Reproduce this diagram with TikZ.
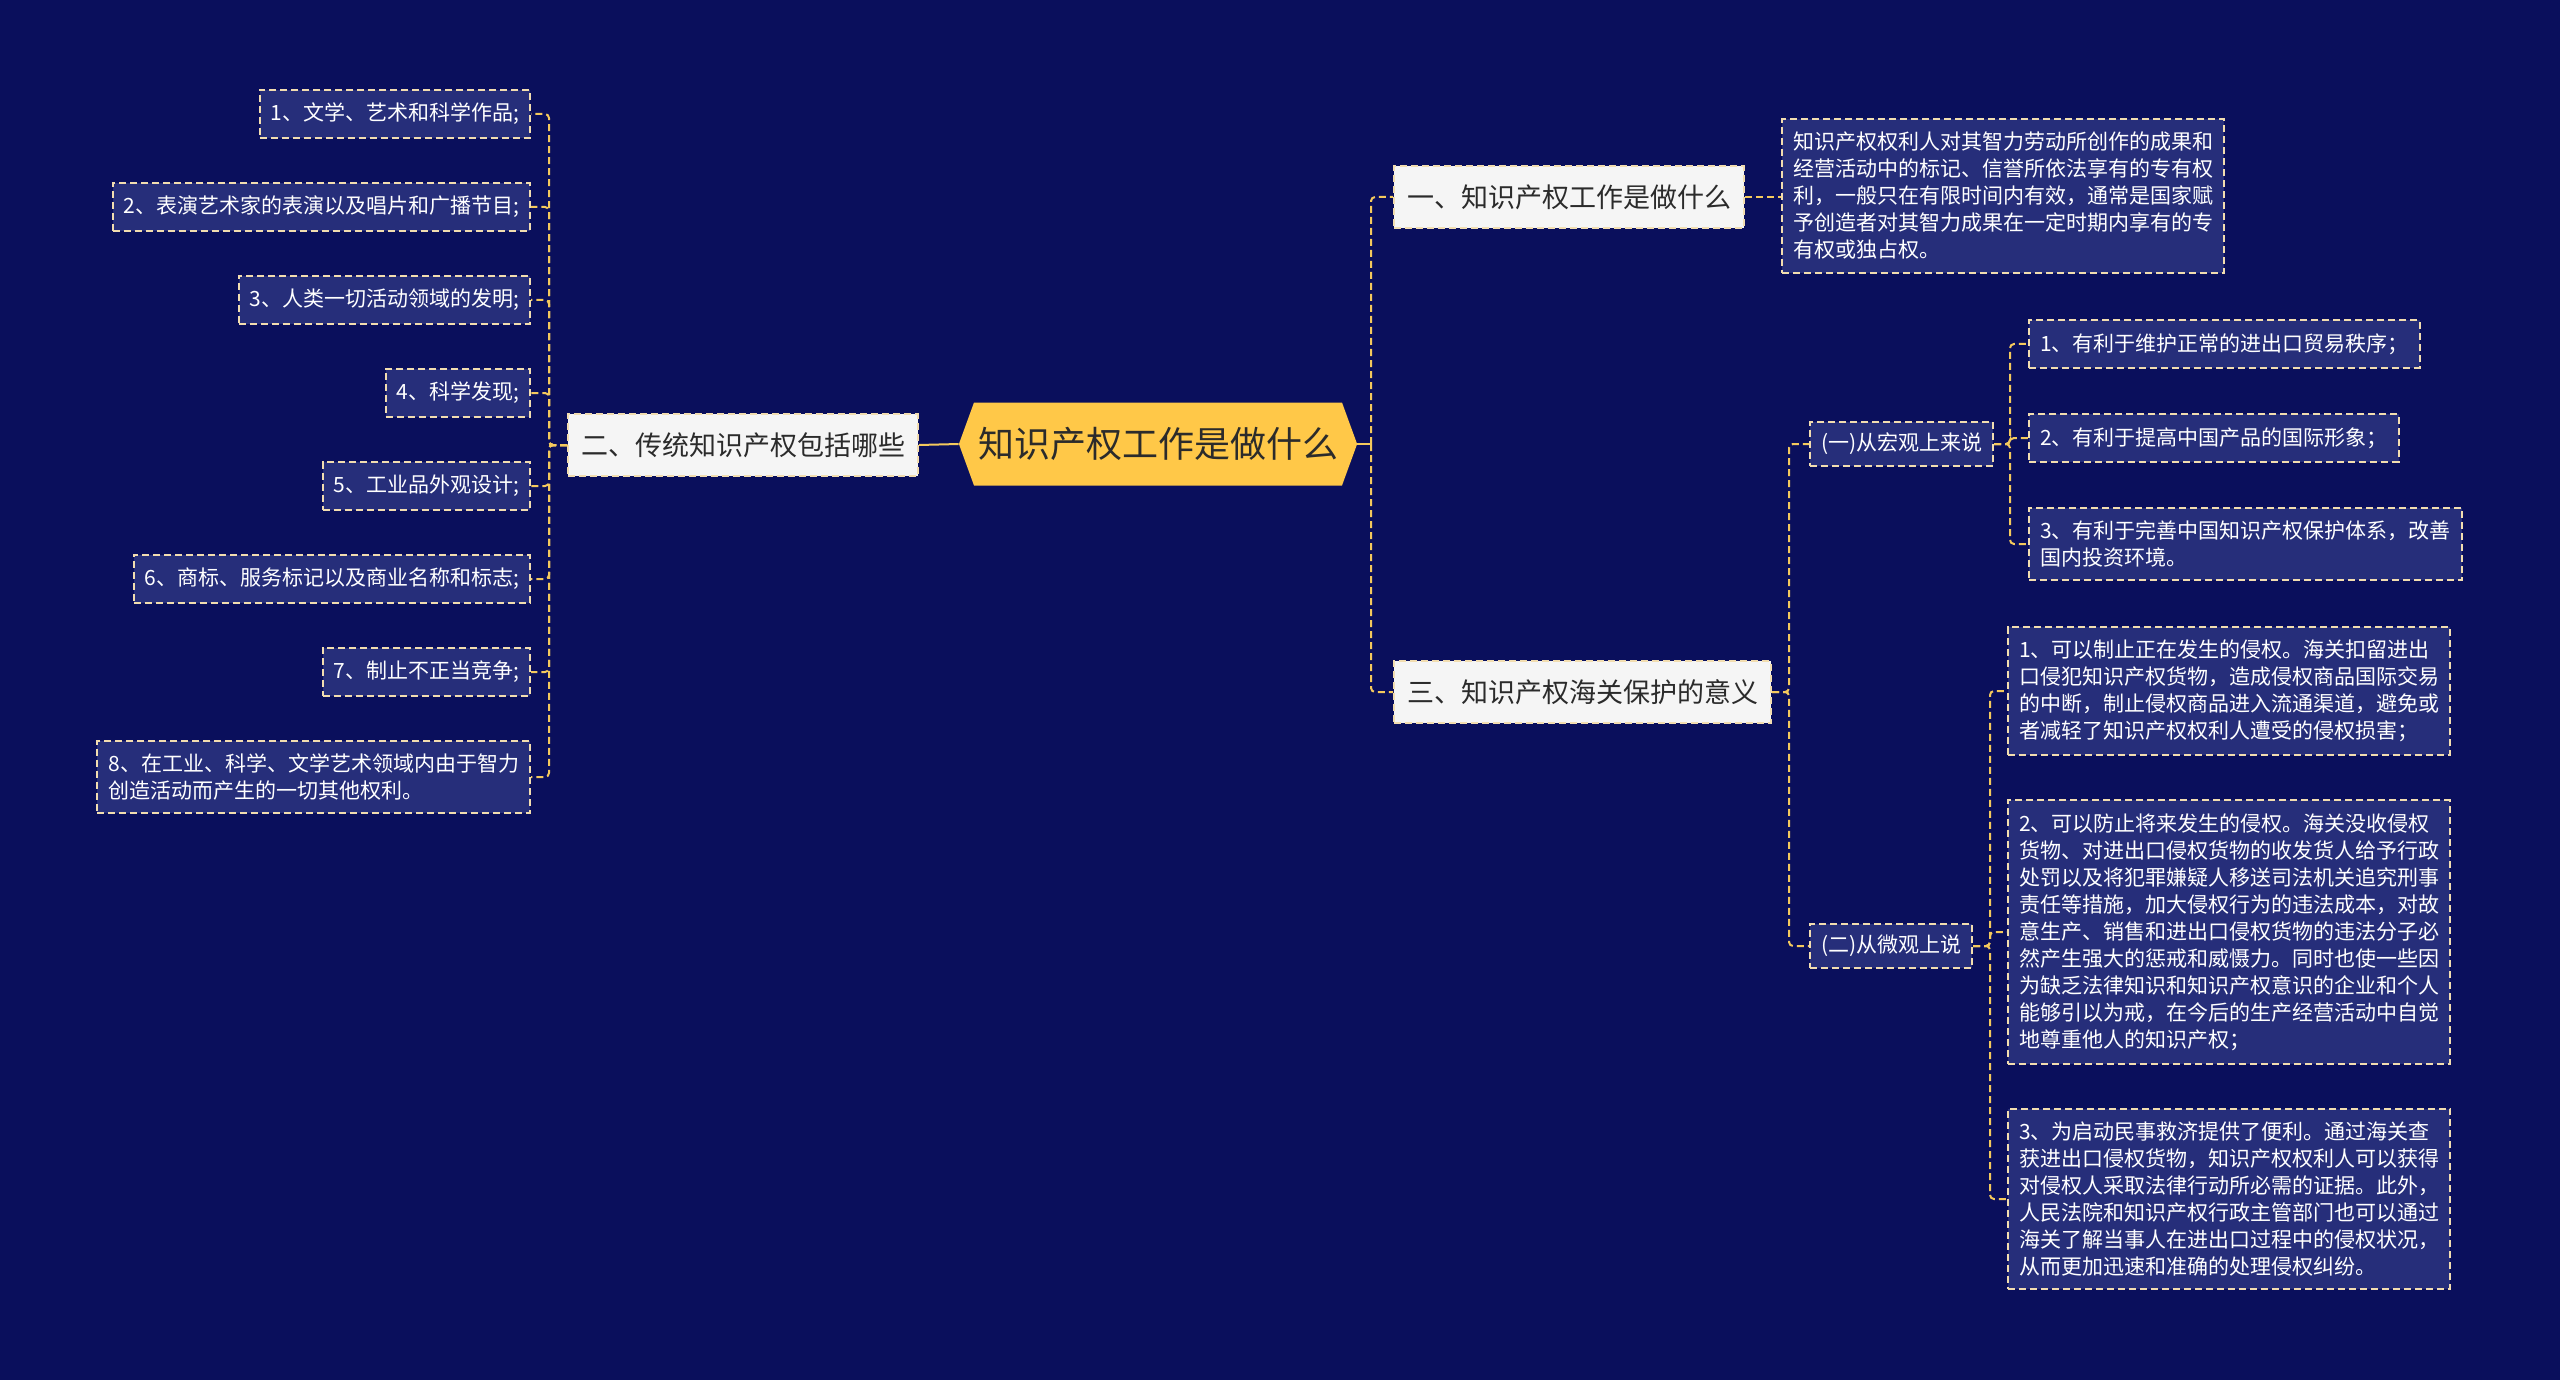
\documentclass[tikz,border=0pt]{standalone}
\usepackage{fontspec}
\setmainfont{Noto Sans CJK SC}
\usetikzlibrary{shapes.symbols}
\definecolor{bgblue}{HTML}{0A0F5C}
\definecolor{leafblue}{HTML}{262E7A}
\definecolor{edge}{HTML}{F2DDB0}
\definecolor{wire}{HTML}{F4C95D}
\definecolor{gold}{HTML}{FFC848}
\definecolor{ink}{HTML}{2B2B2B}
\begin{document}
\begin{tikzpicture}[x=1pt,y=-1pt,
    dotted line/.style={dash pattern=on 7pt off 4pt, line width=2pt},
    leaf/.style={draw=edge, dotted line, fill=leafblue, text=white, align=left,
      font=\fontsize{21}{27}\selectfont, inner xsep=11pt, inner ysep=13pt},
    sub/.style={leaf, inner ysep=11pt},
    topic/.style={draw=edge, dotted line, fill=white!96!black, text=ink,
      font=\fontsize{27}{32}\selectfont, inner xsep=13pt, inner ysep=18pt},
    root/.style={signal, signal to=east and west, signal pointer angle=140, fill=gold, text=ink,
      font=\fontsize{36}{40}\selectfont, minimum width=395pt, minimum height=83pt, inner xsep=4pt},
    link/.style={draw=wire, dotted line, rounded corners=4pt},
    stub/.style={draw=wire, line width=2pt}]
	\fill[bgblue] (0,0) rectangle (2560,1380);
	\useasboundingbox (0,0) rectangle (2560,1380);
	% centre and first level
	\node[root] (root) at (1158,444) {知识产权工作是做什么};
	\node[topic, anchor=east] (t2) at (919,445) {二、传统知识产权包括哪些};
	\node[topic, anchor=west] (t1) at (1393,197) {一、知识产权工作是做什么};
	\node[topic, anchor=west] (t3) at (1393,692) {三、知识产权海关保护的意义};
	% left leaves
	\node[leaf, anchor=east] (g1) at (531,114) {1、文学、艺术和科学作品;};
	\node[leaf, anchor=east] (g2) at (531,207) {2、表演艺术家的表演以及唱片和广播节目;};
	\node[leaf, anchor=east] (g3) at (531,300) {3、人类一切活动领域的发明;};
	\node[leaf, anchor=east] (g4) at (531,393) {4、科学发现;};
	\node[leaf, anchor=east] (g5) at (531,486) {5、工业品外观设计;};
	\node[leaf, anchor=east] (g6) at (531,579) {6、商标、服务标记以及商业名称和标志;};
	\node[leaf, anchor=east] (g7) at (531,672) {7、制止不正当竞争;};
	\node[leaf, anchor=east] (g8) at (531,777) {8、在工业、科学、文学艺术领域内由于智力\\创造活动而产生的一切其他权利。};
	% right side
	\node[leaf, anchor=west] (def) at (1781,196) {知识产权权利人对其智力劳动所创作的成果和\\经营活动中的标记、信誉所依法享有的专有权\\利，一般只在有限时间内有效，通常是国家赋\\予创造者对其智力成果在一定时期内享有的专\\有权或独占权。};
	\node[sub, anchor=west] (s1) at (1809,444) {(一)从宏观上来说};
	\node[sub, anchor=west] (s2) at (1809,946) {(二)从微观上说};
	\node[leaf, anchor=west] (a1) at (2028,344) {1、有利于维护正常的进出口贸易秩序；};
	\node[leaf, anchor=west] (a2) at (2028,438) {2、有利于提高中国产品的国际形象；};
	\node[leaf, anchor=west] (a3) at (2028,544) {3、有利于完善中国知识产权保护体系，改善\\国内投资环境。};
	\node[leaf, anchor=west] (b1) at (2007,691) {1、可以制止正在发生的侵权。海关扣留进出\\口侵犯知识产权货物，造成侵权商品国际交易\\的中断，制止侵权商品进入流通渠道，避免或\\者减轻了知识产权权利人遭受的侵权损害；};
	\node[leaf, anchor=west] (b2) at (2007,932) {2、可以防止将来发生的侵权。海关没收侵权\\货物、对进出口侵权货物的收发货人给予行政\\处罚以及将犯罪嫌疑人移送司法机关追究刑事\\责任等措施，加大侵权行为的违法成本，对故\\意生产、销售和进出口侵权货物的违法分子必\\然产生强大的惩戒和威慑力。同时也使一些因\\为缺乏法律知识和知识产权意识的企业和个人\\能够引以为戒，在今后的生产经营活动中自觉\\地尊重他人的知识产权；};
	\node[leaf, anchor=west] (b3) at (2007,1199) {3、为启动民事救济提供了便利。通过海关查\\获进出口侵权货物，知识产权权利人可以获得\\对侵权人采取法律行动所必需的证据。此外，\\人民法院和知识产权行政主管部门也可以通过\\海关了解当事人在进出口过程中的侵权状况，\\从而更加迅速和准确的处理侵权纠纷。};
	% connectors
	\coordinate (lv) at (549,0);
	\coordinate (rv) at (1371,0);
	\coordinate (sv) at (1789,0);
	\coordinate (mv) at (2010,0);
	\coordinate (nv) at (1990,0);
	\draw[stub] (root.west) -- (t2.east);
	\foreach \i in {1,...,8} \draw[link] (t2.west) -- (t2.west -| lv) |- (g\i.east);
	\draw[stub] (root.east) -- (root.east -| rv);
	\foreach \n in {t1,t3} \draw[link] (root.east -| rv) |- (\n.west);
	\draw[link] (t1.east) -- (t1.east -| def.west);
	\foreach \n in {s1,s2} \draw[link] (t3.east) -- (t3.east -| sv) |- (\n.west);
	\foreach \i in {1,2,3} \draw[link] (s1.east) -- (s1.east -| mv) |- (a\i.west);
	\foreach \i in {1,2,3} \draw[link] (s2.east) -- (s2.east -| nv) |- (b\i.west);
\end{tikzpicture}
\end{document}
